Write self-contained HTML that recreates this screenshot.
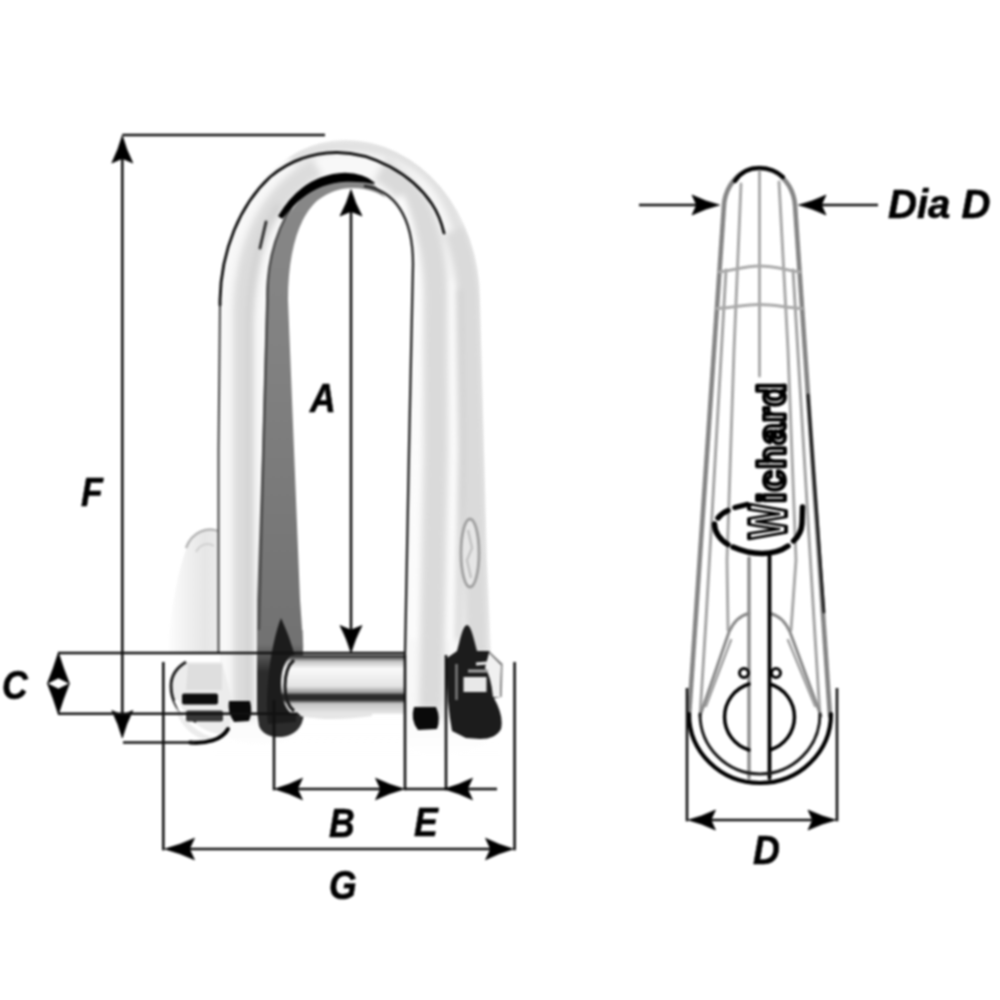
<!DOCTYPE html>
<html lang="en">
<head>
<meta charset="utf-8">
<title>Wichard key pin shackle dimensions</title>
<style>
  html, body { margin: 0; padding: 0; background: #ffffff; }
  body { width: 1000px; height: 1000px; overflow: hidden; }
  svg { display: block; }
  .lbl { font-family: "Liberation Sans", sans-serif; font-weight: bold; font-style: italic; font-size: 40.5px; fill: #000; stroke: #000; stroke-width: 0.6px; stroke-linejoin: round; }
  .dim { stroke: #111; stroke-width: 2.6; fill: none; }
  .ah { fill: #000; stroke: #000; stroke-width: 0.7; stroke-linejoin: round; }
</style>
</head>
<body>
<svg width="1000" height="1000" viewBox="0 0 1000 1000">
  <defs>
    <filter id="soft" color-interpolation-filters="sRGB" filterUnits="userSpaceOnUse" x="0" y="0" width="1000" height="1000"><feGaussianBlur stdDeviation="0.9"/></filter>
    <filter id="soft2" color-interpolation-filters="sRGB" filterUnits="userSpaceOnUse" x="0" y="0" width="1000" height="1000"><feGaussianBlur stdDeviation="3"/></filter>
    <linearGradient id="bowg" x1="220" y1="0" x2="495" y2="0" gradientUnits="userSpaceOnUse">
      <stop offset="0" stop-color="#f4f4f4"/>
      <stop offset="0.05" stop-color="#e2e2e2"/>
      <stop offset="0.12" stop-color="#dcdcdc"/>
      <stop offset="0.16" stop-color="#fafafa"/>
      <stop offset="0.70" stop-color="#f6f6f6"/>
      <stop offset="0.76" stop-color="#dedede"/>
      <stop offset="0.81" stop-color="#ffffff"/>
      <stop offset="0.86" stop-color="#e4e4e4"/>
      <stop offset="1" stop-color="#ececec"/>
    </linearGradient>
    <linearGradient id="ping" x1="0" y1="654" x2="0" y2="716" gradientUnits="userSpaceOnUse">
      <stop offset="0" stop-color="#1a1a1a"/>
      <stop offset="0.05" stop-color="#4a4a4a"/>
      <stop offset="0.12" stop-color="#c4c4c4"/>
      <stop offset="0.24" stop-color="#fafafa"/>
      <stop offset="0.52" stop-color="#e4e4e4"/>
      <stop offset="0.62" stop-color="#9a9a9a"/>
      <stop offset="0.66" stop-color="#2a2a2a"/>
      <stop offset="0.74" stop-color="#2a2a2a"/>
      <stop offset="0.80" stop-color="#c4c4c4"/>
      <stop offset="0.92" stop-color="#dedede"/>
      <stop offset="1" stop-color="#f4f4f4"/>
    </linearGradient>
    <linearGradient id="legfade" x1="0" y1="700" x2="0" y2="756" gradientUnits="userSpaceOnUse">
      <stop offset="0" stop-color="#ffffff" stop-opacity="0"/>
      <stop offset="1" stop-color="#ffffff" stop-opacity="1"/>
    </linearGradient>
    <clipPath id="bowclip"><path d="M220,725 L220,300 A125,160 0 0 1 345,140 A135,160 0 0 1 480,300 L487,560 L494,720 Q494,752 450,754 L425,754 Q405,752 405,730 L405,656 L304,656 L304,720 Q300,744 262,744 Q222,744 220,725 Z"/></clipPath>
    <linearGradient id="darkleg" x1="0" y1="644" x2="0" y2="672" gradientUnits="userSpaceOnUse">
      <stop offset="0" stop-color="#727272"/>
      <stop offset="1" stop-color="#2c2c2c"/>
    </linearGradient>
    <linearGradient id="taperg" x1="0" y1="180" x2="0" y2="640" gradientUnits="userSpaceOnUse">
      <stop offset="0" stop-color="#888888"/>
      <stop offset="0.35" stop-color="#828282"/>
      <stop offset="1" stop-color="#727272"/>
    </linearGradient>
    <linearGradient id="fobg" x1="166" y1="0" x2="218" y2="0" gradientUnits="userSpaceOnUse">
      <stop offset="0" stop-color="#ffffff"/>
      <stop offset="0.35" stop-color="#f2f2f2"/>
      <stop offset="0.75" stop-color="#e6e6e6"/>
      <stop offset="1" stop-color="#ececec"/>
    </linearGradient>
  </defs>
  <rect x="0" y="0" width="1000" height="1000" fill="#ffffff"/>

  <g id="all" filter="url(#soft)">
  <!-- ================= PHOTO-LIKE SHACKLE (left) ================= -->
  <g id="shackle">
    <!-- key fob -->
    <path d="M168,652 C171,600 181,560 189,542 C196,530 208,527 218,531 L218,652 Z" fill="url(#fobg)"/>
    <path d="M186,548 C192,531 208,527 218,531" fill="none" stroke="#b4b4b4" stroke-width="2.4"/>
    <path d="M196,552 C200,544 208,542 214,546" fill="none" stroke="#d0d0d0" stroke-width="2"/>
    <!-- bow body -->
    <path id="bowbody" d="M220,725 L220,300 A125,160 0 0 1 345,140 A135,160 0 0 1 480,300 L487,560 L494,720 Q494,752 450,754 L425,754 Q405,752 405,730 L405,656 L304,656 L304,720 Q300,744 262,744 Q222,744 220,725 Z" fill="#f8f8f8"/>
    <g clip-path="url(#bowclip)"><g filter="url(#soft2)" fill="none">
      <!-- left leg light band -->
      <path d="M243,720 L243,310 C245,240 272,192 317,167" stroke="#dcdcdc" stroke-width="20"/><path d="M250,720 L250,320 C252,270 262,230 280,205" stroke="#d0d0d0" stroke-width="7"/>
      <!-- top outer band -->
      <path d="M290,160 C325,140 385,138 425,172 C455,198 468,250 470,300" stroke="#e0e0e0" stroke-width="12"/>
      <!-- right leg bands -->
      <path d="M380,170 C418,190 434,230 435.5,290 L436,450 L431,720" stroke="#dadada" stroke-width="24"/>
      <path d="M455,230 C466,260 468,280 469,300 L473,450 L479,730" stroke="#dadada" stroke-width="24"/>
      <path d="M452,280 L454.5,450 L450,640" stroke="#ffffff" stroke-width="5"/>
      <path d="M400,196 C414,226 418.5,260 418.5,300 L413.5,640" stroke="#fdfdfd" stroke-width="7"/><path d="M458.5,290 L461,450 L458,640" stroke="#c8c8c8" stroke-width="4"/>
    </g></g>
    <!-- leg bottom fade -->
    <rect x="215" y="700" width="285" height="60" fill="url(#legfade)"/>
    <!-- inner gray face -->
    <path d="M257,660 L257,600 L262,450 L266,300 A84,125 0 0 1 350,175 Q374,177 388,202 L350,300 L303,650 L303,660 Z" fill="url(#taperg)"/>
    <path d="M258.5,650 L263.5,450 L267.5,300 A84,125 0 0 1 300,196" fill="none" stroke="#4e4e4e" stroke-width="2.5"/>
    <!-- opening -->
    <path d="M304,656 L300,600 L294,450 L288,300 C288,252 299,216 318,200 C329,192 340,188 352,188 C388,188 413,214 413,264 L409,450 L405,656 Z" fill="#ffffff"/>
    <!-- outlines -->
    <path d="M218.5,652 L218.5,450 L220,300" fill="none" stroke="#4a4a4a" stroke-width="2.1"/><path d="M220,305 L220,300 C221,250 240,205 270,177 C290,160 312,153 336,152.5 C372,152 412,174 432,204 Q440,216 444,233" fill="none" stroke="#141414" stroke-width="2.9" stroke-linecap="round"/>
    <path d="M279,216 C295,189 318,174.5 345,173.5 Q364,174 374,183 Q362,180.5 346,181 C322,182 300,194 282,218 Z" fill="#000" stroke="#000" stroke-width="1.5" stroke-linejoin="round"/>
    
    <path d="M364,186 C394,190 413,216 413,264 L409,450 L405,655" fill="none" stroke="#262626" stroke-width="2.4"/>
    <path d="M266,222 L260,248" fill="none" stroke="#333" stroke-width="3" stroke-linecap="round"/>
    <!-- engraved oval -->
    <ellipse cx="470" cy="553" rx="9" ry="34" fill="#e6e6e6" stroke="#a0a0a0" stroke-width="2.8"/>
    <path d="M468,530 L472,548 L467,560 L471,578" fill="none" stroke="#c2c2c2" stroke-width="2.4"/>
    <!-- dark leg bottom around pin -->
    <path d="M257,630 L302.5,630 L304,712 Q303,734 282,737 Q264,738 259,726 L257,712 Z" fill="url(#darkleg)"/>
    <path d="M281,618 C289,636 296,654 298,676 L296,722 L268,724 C264,690 272,640 281,618 Z" fill="#1c1c1c"/>
    <!-- pin -->
    <path d="M292,655 L405,655 L405,714 L292,714 C284,708 281,696 281,684 C281,672 284,661 292,655 Z" fill="url(#ping)"/>
    <path d="M294,660 C287,666 285,676 285,686 C285,696 288,706 294,711" fill="none" stroke="#1a1a1a" stroke-width="3"/>
    <path d="M300,716 Q330,722 372,716 L372,713 L300,713 Z" fill="#e6e6e6"/>
    <!-- left pin head / key -->
    <path d="M186,662 C176,668 171,676 171,688 C171,712 186,738 210,741 C222,741 228,736 230,728 L232,700 L222,662 Z" fill="#ececec"/>
    <path d="M188,664 L222,664 L222,690 L186,690 Z" fill="#dedede"/>
    <path d="M186,662 C176,668 171,676 171,686 C171,700 178,714 196,722" fill="none" stroke="#222" stroke-width="3"/>
    <path d="M176,700 C186,726 210,738 226,736" fill="none" stroke="#fff" stroke-width="4"/>
    <rect x="182" y="693.5" width="36" height="11" rx="2" fill="#0c0c0c"/>
    <rect x="186" y="710.5" width="37" height="11" rx="2" fill="#3a3a3a"/>
    <path d="M229,701 L250,701 Q253,712 249,721 L234,722 Q227,712 229,701 Z" fill="#0a0a0a"/>
    <path d="M190,742.5 C206,744 222,740 228,729" fill="none" stroke="#000" stroke-width="4" stroke-linecap="round"/>
    <!-- right small blob -->
    <path d="M414,707 L436,707 Q441,718 437,729 L418,730 Q410,720 414,707 Z" fill="#0a0a0a"/>
    <!-- nut -->
    <path d="M467,625 C471,625 474,640 477,651 L489,651 L502,664 L501,697 L494,698 Q504,716 501,729 Q496,739 480,739 L466,738 L452,731 Q446,700 447,658 L457,651 C460,640 463,625 467,625 Z" fill="#1c1c1c"/>
    <path d="M489,653 L501,665 L500,697 L493,697 Q491,676 485,668 Z" fill="#f0f0f0"/>
    <path d="M489,652 L502,664 L501,697" fill="none" stroke="#9a9a9a" stroke-width="1.6"/>
    <rect x="463.5" y="677" width="23" height="15" fill="#e8e8e8"/>
    <path d="M468,671 L488,671" stroke="#a4a4a4" stroke-width="3"/>
    <path d="M476,664 L487,663" stroke="#e8e8e8" stroke-width="3"/>
    <path d="M456.5,700 L456.5,664" stroke="#7c7c7c" stroke-width="2.6"/>
  </g>

  <!-- ================= DIMENSION LINES ================= -->
  <g id="dims">
    <!-- F -->
    <path class="dim" d="M122.3,135 L325,135"/>
    <path class="dim" d="M122.3,150 L122.3,725"/>
    <path class="ah" d="M122.3,135.5 Q126,149.2 132.8,163 L122.3,158.5 L111.8,163 Q118.6,149.2 122.3,135.5 Z"/>
    <path class="ah" d="M122.3,738 Q118.6,724.2 111.8,710.5 L122.3,715 L132.8,710.5 Q126,724.2 122.3,738 Z"/>
    <path class="dim" d="M123,742.5 L195,742.5"/>
    <!-- A -->
    <path class="dim" d="M351,205 L351,640" stroke-width="2.4"/>
    <path class="ah" d="M351,189.5 Q354.9,202.8 362,216 L351,211.5 L340,216 Q347.1,202.8 351,189.5 Z"/>
    <path class="ah" d="M351,653 Q347.1,639.2 340,625.5 L351,630 L362,625.5 Q354.9,639.2 351,653 Z"/>
    <!-- C -->
    <path class="dim" d="M58,653 L405,653"/>
    <path class="dim" d="M58,713.7 L298,713.7"/>
    <path class="ah" d="M58.4,652.5 Q63.1,668 69.4,683.5 L58.4,678 L47.4,683.5 Q53.7,668 58.4,652.5 Z"/>
    <path class="ah" d="M58.4,714.5 Q53.7,699 47.4,683.5 L58.4,689 L69.4,683.5 Q63.1,699 58.4,714.5 Z"/>
    <!-- B / E -->
    <path class="dim" d="M274,700 L274,790.3"/>
    <path class="dim" d="M405,655 L405,790.3"/>
    <path class="dim" d="M446,655 L446,790.3"/>
    <path class="dim" d="M290,789 L390,789"/>
    <path class="dim" d="M405,789 L446,789"/>
    <path class="dim" d="M465,789 L497,789"/>
    <path class="ah" d="M274.5,789 Q288.5,785.2 302.5,778.2 L297.5,789 L302.5,799.8 Q288.5,792.8 274.5,789 Z"/>
    <path class="ah" d="M404.5,789 Q390,792.8 375.5,799.8 L380.5,789 L375.5,778.2 Q390,785.2 404.5,789 Z"/>
    <path class="ah" d="M444,789 Q458.2,785.2 472.5,778.2 L467.5,789 L472.5,799.8 Q458.2,792.8 444,789 Z"/>
    <!-- G -->
    <path class="dim" d="M163.3,662 L163.3,850.3"/>
    <path class="dim" d="M514.6,662 L514.6,850.3"/>
    <path class="dim" d="M180,849 L498,849"/>
    <path class="ah" d="M164.5,849 Q179.5,845.2 194.5,838.2 L189.5,849 L194.5,859.8 Q179.5,852.8 164.5,849 Z"/>
    <path class="ah" d="M513.5,849 Q499.5,852.8 485.5,859.8 L490.5,849 L485.5,838.2 Q499.5,845.2 513.5,849 Z"/>
  </g>


  <!-- ================= SIDE VIEW LINE DRAWING (right) ================= -->
  <g id="sideview" fill="none" stroke-linecap="round">
    <!-- outer outline gray -->
    <path d="M689,716 L724,205 C725,188 738,168 759,168 C781,168 794,188 795,205 L830,716" stroke="#858585" stroke-width="4.6" stroke-dasharray="10 1"/>
    <!-- black cap at top -->
    <path d="M735,181 C741,172 750,168 759,168 C769,168 777,171 783,177" stroke="#000" stroke-width="4.2"/>
    <!-- right black edge -->
    <path d="M808,395 L824,612" stroke="#1c1c1c" stroke-width="2.8"/>
    <!-- inner longitudinal lines -->
    <path d="M759.5,171 L759.5,376" stroke="#aaaaaa" stroke-width="3"/>
    <path d="M741,184 L734,350 L727,560 L728,630" stroke="#a8a8a8" stroke-width="3"/>
    <path d="M726,270 L706,620 L700,716" stroke="#a4a4a4" stroke-width="3"/>
    <path d="M779,182 L788,350 L796,560 L791,630" stroke="#a8a8a8" stroke-width="3"/>
    <path d="M793,270 L814,620 L820,716" stroke="#a4a4a4" stroke-width="3"/>
    
    <!-- cross lines -->
    <path d="M719,272 C735,270 745,266 759,266 C775,266 785,270 800,272" stroke="#aaaaaa" stroke-width="3"/>
    <path d="M717,308.5 C735,307.5 745,304.5 759,304.5 C775,304.5 785,307.5 802,308.5" stroke="#aaaaaa" stroke-width="3"/>
    <!-- arch -->
    <path d="M700,716 L729,632 C734,621 741,615 749,613.5" stroke="#8a8a8a" stroke-width="3"/><path d="M770,613.5 C778,615 785,621 790,632 L821,716" stroke="#8a8a8a" stroke-width="3"/>
    <path d="M706,706 L731,640" stroke="#a0a0a0" stroke-width="2.4"/>
    <path d="M815,706 L788,640" stroke="#a0a0a0" stroke-width="2.4"/>
    <!-- stem -->
    <path d="M749,558 L749,778" stroke="#8c8c8c" stroke-width="3.4"/>
    <path d="M769.5,556 L769.5,778" stroke="#000" stroke-width="3.8"/>
    <!-- logo ring -->
    <g stroke="#000" stroke-width="5.4" stroke-linecap="round">
      <path d="M735,507.5 L747,504.5"/>
      <path d="M718,518 Q722,513 728,510.5"/>
      <path d="M714.5,524 C714.5,532 720,540 728,544.5"/>
      <path d="M733,547 C742,551 752,553.5 762,553.5 C772,553.5 781,551 788,546"/>
      <path d="M793.5,541 C799,536 801.5,531 802,524 L802.5,507"/>
    </g>
    <!-- bottom semicircles -->
    <path d="M689,714 A71,69 0 0 0 831,714" stroke="#000" stroke-width="4.2"/>
    <path d="M700,714 A60,60 0 0 0 820,714" stroke="#1a1a1a" stroke-width="3"/>
    <!-- hole -->
    <path d="M749,684 A34.5,34.5 0 0 0 749,750" stroke="#000" stroke-width="3.5"/>
    <path d="M770,684 A34.5,34.5 0 0 1 770,750" stroke="#000" stroke-width="3.5"/>
    <circle cx="744" cy="673" r="4.5" stroke="#000" stroke-width="3"/>
    <circle cx="776" cy="673" r="4.5" stroke="#000" stroke-width="3"/>
  </g>
  <g id="wichard">
    <text transform="translate(786,539) rotate(-90)" font-family="'Liberation Sans', sans-serif" font-weight="bold" font-size="38" fill="#ffffff" stroke="#000" stroke-width="3.9" stroke-linejoin="round"><tspan font-size="54" textLength="35" lengthAdjust="spacingAndGlyphs">W</tspan><tspan dx="1" dy="-1" textLength="120" lengthAdjust="spacing">ichard</tspan></text>
  </g>
  <g id="dims2">
    <path class="dim" d="M639,205 L700,205"/>
    <path class="dim" d="M818,205 L878,205"/>
    <path class="ah" d="M719.5,205 Q705.8,208.4 692,215 L696.5,205 L692,195 Q705.8,201.6 719.5,205 Z"/>
    <path class="ah" d="M798.5,205 Q812.2,201.6 826,195 L821.5,205 L826,215 Q812.2,208.4 798.5,205 Z"/>
    <path class="dim" d="M687,688 L687,821.3" stroke="#5e5e5e" stroke-width="3"/>
    <path class="dim" d="M837,688 L837,821.3" stroke="#5e5e5e" stroke-width="3"/>
    <path class="dim" d="M710,820 L812,820" stroke="#6c6c6c" stroke-width="3.2"/>
    <path class="ah" d="M688,820 Q701.8,816.6 715.5,810 L711,820 L715.5,830 Q701.8,823.4 688,820 Z"/>
    <path class="ah" d="M836,820 Q822,823.4 808,830 L812.5,820 L808,810 Q822,816.6 836,820 Z"/>
  </g>

  <!-- ================= LABELS ================= -->
  <g id="labels">
    <text class="lbl" transform="translate(310,412) scale(0.88,1)">A</text>
    <text class="lbl" transform="translate(329,837) scale(0.88,1)">B</text>
    <text class="lbl" transform="translate(2,699) scale(0.88,1)">C</text>
    <text class="lbl" transform="translate(414,836) scale(0.88,1)">E</text>
    <text class="lbl" transform="translate(81,506) scale(0.88,1)">F</text>
    <text class="lbl" transform="translate(329,898.5) scale(0.88,1)">G</text>
    <text class="lbl" transform="translate(753,863.5) scale(0.92,1)">D</text>
    <text class="lbl" transform="translate(888,218) scale(0.99,1)">Dia D</text>
  </g>
  </g>
</svg>
</body>
</html>
